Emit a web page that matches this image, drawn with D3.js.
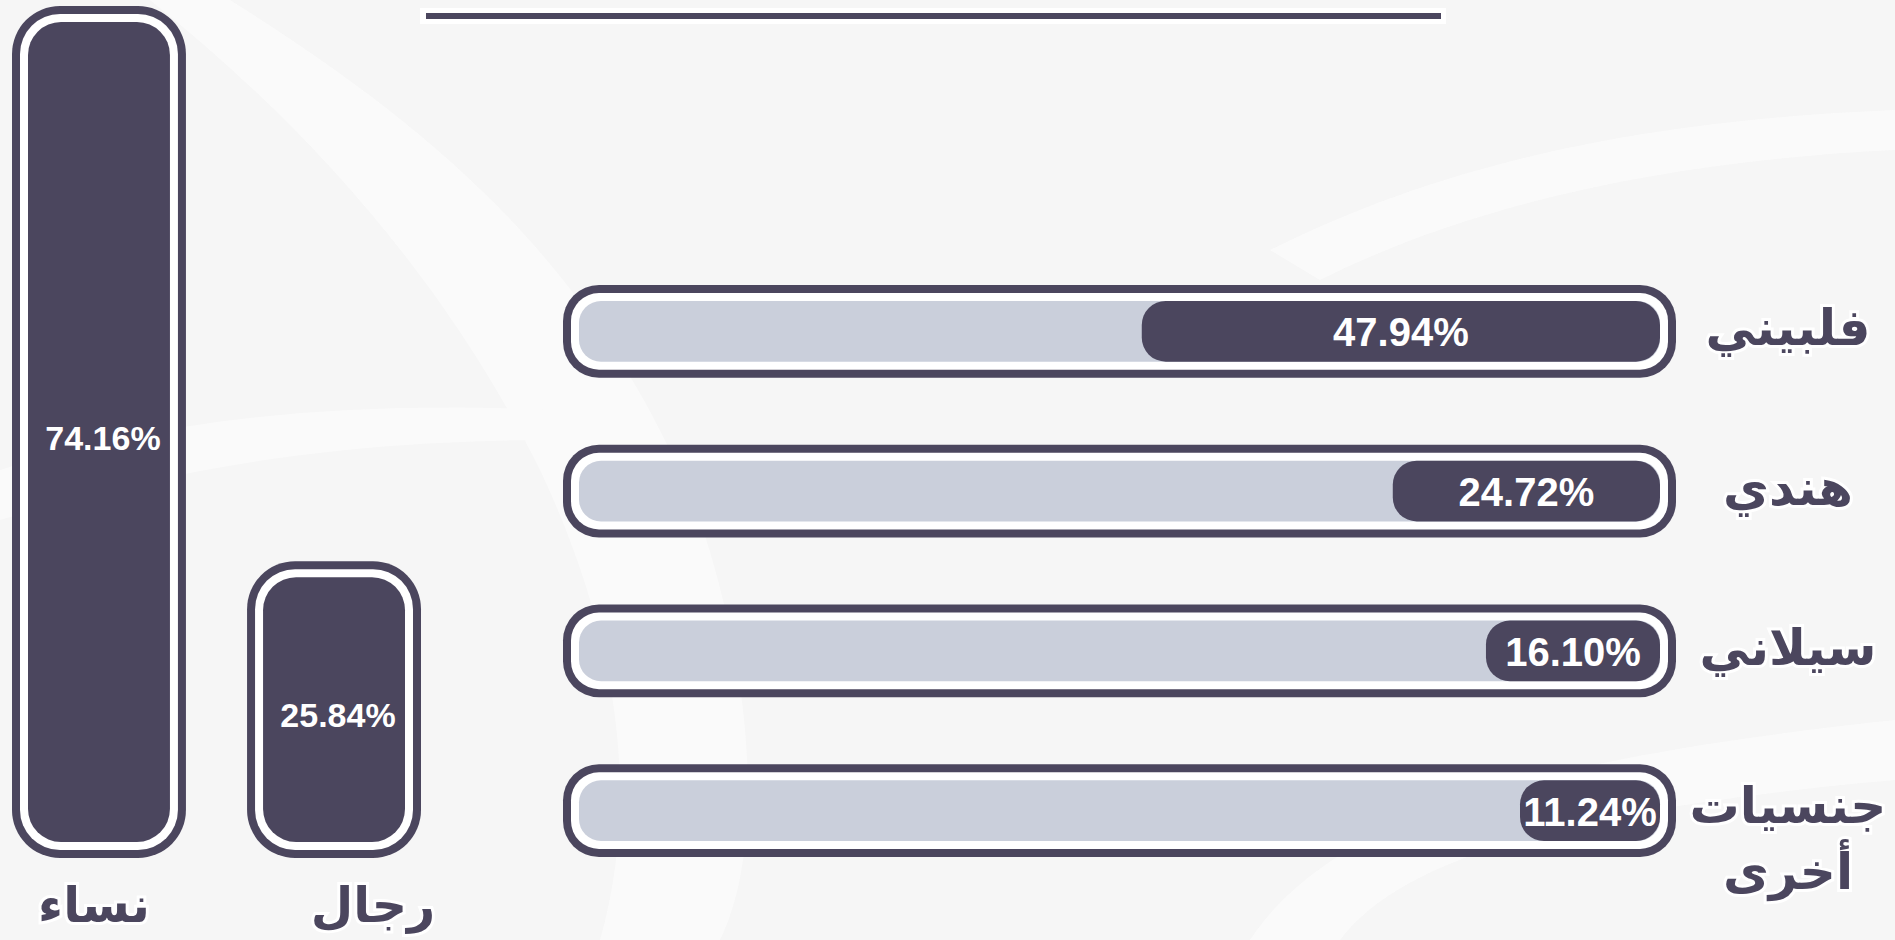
<!DOCTYPE html>
<html lang="ar">
<head>
<meta charset="utf-8">
<script src="https://cdn.jsdelivr.net/npm/d3@7"></script>
<style>
  html, body { margin: 0; padding: 0; background: #f6f6f6; overflow: hidden; }
  svg { display: block; }
</style>
</head>
<body>
<div id="chart"></div>
<script>
// data
const genders = ["نساء", "رجال"];
const genderValues = [74.16, 25.84];
const nationalities = ["فلبيني", "هندي", "سيلاني", "جنسيات أخرى"];
const nationalityValues = [47.94, 24.72, 16.10, 11.24];

const W = 1895, H = 940;
const dark = "#4b465e", track = "#cacfdb", bg = "#f6f6f6";
const numFont = "'Liberation Sans', Arial, sans-serif";
const arFont = "'DejaVu Sans', sans-serif";
const fmt = v => v.toFixed(2) + "%";

const svg = d3.select("#chart").append("svg")
    .attr("width", W)
    .attr("height", H);

// background + faint watermark swooshes
svg.append("rect").attr("width", W).attr("height", H).attr("fill", bg);
const wm = svg.append("g").attr("fill", "#fdfdfd").attr("opacity", 0.6);
wm.append("path").attr("d", "M230,0 C420,120 600,260 700,520 C760,700 760,860 720,940 L600,940 C640,800 620,640 540,470 C440,270 300,120 150,0 Z");
wm.append("path").attr("d", "M0,470 C160,420 330,400 560,410 L560,440 C330,440 170,470 0,520 Z");
wm.append("path").attr("d", "M1250,940 C1330,820 1520,760 1895,720 L1895,780 C1560,810 1400,860 1340,940 Z");
wm.append("path").attr("d", "M1270,250 C1450,160 1650,120 1895,110 L1895,150 C1680,160 1480,200 1320,280 Z");

// top rule
svg.append("rect").attr("x", 420).attr("y", 8).attr("width", 1026).attr("height", 16).attr("fill", "#fff");
svg.append("rect").attr("x", 426).attr("y", 13).attr("width", 1015).attr("height", 6).attr("fill", dark);

// ---- vertical bars (gender) ----
const gData = genders.map((name, i) => ({ name, value: genderValues[i] }));
const baseY = 858;
const xG = d3.scaleBand().domain(genders).range([12, 421]).paddingInner(0.26);
const yG = d3.scaleLinear().domain([0, d3.max(genderValues)]).range([baseY, 6]);
const labelShift = [-5, 39];

const gBars = svg.append("g").selectAll("g")
    .data(gData)
    .join("g");

// outer ring, white gap, inner fill
[[0, 48, dark], [8, 40, "#fff"], [16, 33, dark]].forEach(([inset, r, fill]) => {
    gBars.append("rect")
        .attr("x", d => xG(d.name) + inset)
        .attr("y", d => yG(d.value) + inset)
        .attr("width", xG.bandwidth() - 2 * inset)
        .attr("height", d => baseY - yG(d.value) - 2 * inset)
        .attr("rx", r)
        .attr("fill", fill);
});

gBars.append("text")
    .attr("x", d => xG(d.name) + xG.bandwidth() / 2 + 4)
    .attr("y", d => (yG(d.value) + baseY) / 2 + 6)
    .attr("dy", "0.35em")
    .attr("text-anchor", "middle")
    .attr("fill", "#fff")
    .style("font", `bold 34px ${numFont}`)
    .text(d => fmt(d.value));

gBars.append("text")
    .attr("x", (d, i) => xG(d.name) + xG.bandwidth() / 2 + labelShift[i])
    .attr("y", 922)
    .attr("text-anchor", "middle")
    .attr("fill", dark)
    .attr("stroke", "#fff")
    .attr("stroke-width", 6)
    .attr("paint-order", "stroke")
    .style("font", `bold 49px ${arFont}`)
    .text(d => d.name);

// ---- horizontal bars (nationality) ----
const nData = nationalities.map((name, i) => ({ name, value: nationalityValues[i] }));
const frameL = 563, frameR = 1676;
const yN = d3.scaleBand().domain(nationalities).range([285, 857]).paddingInner(0.42);
// right-to-left: 0% at the right end of the track
const xN = d3.scaleLinear().domain([0, 100]).range([frameR - 16, frameL + 16]);
const minFill = 140;

const nRows = svg.append("g").selectAll("g")
    .data(nData)
    .join("g")
    .attr("transform", d => `translate(0,${yN(d.name)})`);

const bh = yN.bandwidth();
[[0, 36, dark], [8, 28, "#fff"], [16, 22, track]].forEach(([inset, r, fill]) => {
    nRows.append("rect")
        .attr("x", frameL + inset)
        .attr("y", inset)
        .attr("width", frameR - frameL - 2 * inset)
        .attr("height", bh - 2 * inset)
        .attr("rx", r)
        .attr("fill", fill);
});

const fillLeft = d => Math.min(xN(d.value), xN(0) - minFill);

nRows.append("rect")
    .attr("x", fillLeft)
    .attr("y", 16)
    .attr("width", d => xN(0) - fillLeft(d))
    .attr("height", bh - 32)
    .attr("rx", 24)
    .attr("fill", dark);

nRows.append("text")
    .attr("x", d => (fillLeft(d) + xN(0)) / 2)
    .attr("y", bh / 2 + 1)
    .attr("dy", "0.35em")
    .attr("text-anchor", "middle")
    .attr("fill", "#fff")
    .style("font", `bold 40px ${numFont}`)
    .text(d => fmt(d.value));

nRows.append("text")
    .attr("text-anchor", "middle")
    .attr("fill", dark)
    .attr("stroke", "#fff")
    .attr("stroke-width", 6)
    .attr("paint-order", "stroke")
    .style("font", `bold 50px ${arFont}`)
    .selectAll("tspan")
    .data(d => {
        const lines = d.name.split(" ");
        return lines.map((t, i) => ({ t, i, n: lines.length }));
    })
    .join("tspan")
    .attr("x", 1788)
    .attr("y", l => l.n === 1 ? bh / 2 + 14 : bh / 2 + 12 + l.i * 66)
    .text(l => l.t);
</script>
</body>
</html>
